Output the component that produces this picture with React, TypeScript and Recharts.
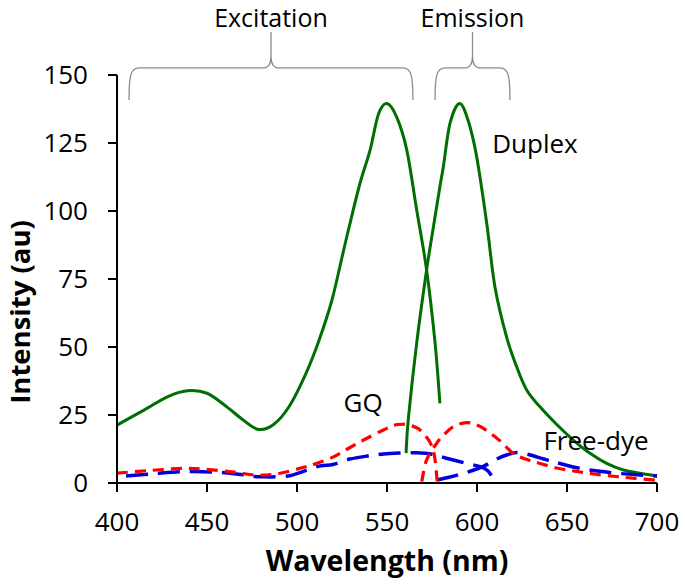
import React from "react";
import {
    LineChart,
    Line,
    XAxis,
    YAxis,
    ReferenceLine,
    ReferenceDot,
} from "recharts";

// wavelength (nm) / intensity (au)
const duplexExWl = [400, 415, 428, 439, 450, 461, 470, 478.5, 487, 496, 505, 512, 519.3, 525.7, 529.1, 535, 540.6, 545.2, 550, 555.4, 561, 566.5, 572, 576.7, 579.4];
const duplexExI = [21.3, 26.8, 31.7, 33.9, 33, 28, 23.2, 19.7, 21.5, 28.5, 40.3, 52, 67, 85, 94.5, 110.2, 122.4, 135.5, 139.5, 134.5, 122.4, 100.4, 78.3, 51.5, 29.3];

const duplexEmWl = [560.6, 561.8, 566.5, 572, 576, 579.4, 581.3, 585, 590.3, 595.2, 599.8, 605.4, 610, 616.5, 622, 627.6, 635, 644.3, 653.5, 662.8, 672, 681.3, 690.6, 700];
const duplexEmI = [11, 23.2, 51.5, 78.3, 95, 109, 116.3, 132.2, 139.5, 133, 120, 95.5, 72, 53.5, 42.8, 34.2, 28, 21.5, 15.8, 10.9, 7.2, 4.8, 3.6, 2.6];

const gqExWl = [400, 418, 437, 450, 465, 477.6, 490, 501.7, 510, 520, 528, 537, 548, 556, 564, 570.2, 575.7, 578];
const gqExI = [3.6, 4.6, 5.4, 5, 4, 2.9, 3.5, 5.4, 7, 9.5, 12.5, 15.8, 19.5, 21.5, 21, 18.3, 12.1, 0];

const gqEmWl = [569.3, 572, 577.6, 581.3, 586.8, 594, 600, 606, 612.8, 620, 627, 635, 645, 655, 665, 677, 688, 700];
const gqEmI = [0.5, 8.5, 14.6, 17.5, 20.7, 22.2, 21.3, 19, 15.5, 11, 8.8, 7.2, 5.4, 4.3, 3.3, 2.4, 1.7, 1.0];

const freeExWl = [405, 420, 437, 455, 470, 479.4, 496, 511, 520, 529.4, 540, 548, 557, 566.5, 575, 583, 594.3, 601.7, 606, 609];
const freeExI = [2.6, 3.4, 4.2, 4, 3, 2.3, 2.7, 6, 6.8, 8.8, 10, 10.7, 11, 11.1, 10.6, 9.1, 7.2, 6, 4.5, 1.5];

const freeEmWl = [577.6, 585, 594.3, 603.5, 610, 616.5, 624, 638.7, 647, 657, 667, 677.6, 689, 700];
const freeEmI = [1.1, 2.2, 3.9, 6.1, 8.5, 10.3, 11.1, 8.5, 7, 5.4, 4.4, 3.6, 3.0, 2.6];

const xTicks = [400, 450, 500, 550, 600, 650, 700];
const yTicks = [0, 25, 50, 75, 100, 125, 150];

// brace spans (nm) and the level they sit at (au, above the plot top)
const braceNames = ["Excitation", "Emission"];
const braceFrom = [406.7, 576.7];
const braceTo = [564.4, 618.3];
const braceLevel = 152.6;

// series annotations: label, wavelength, intensity of label centre
const noteNames = ["Duplex", "GQ", "Free-dye"];
const noteWl = [632.2, 536.7, 666.1];
const noteI = [124.6, 29.6, 15.4];

const FONT = "'Open Sans', sans-serif";
const GREEN = "#006e00";
const RED = "#ff0000";
const BLUE = "#0000e0";

function zip(wl: number[], vals: number[]) {
    return wl.map((x, i) => ({ x, y: vals[i] }));
}

// spreadsheet-style smoothed line (Catmull-Rom as cubic beziers)
function smoothCurve(context: any) {
    let pts: number[][] = [];
    return {
        areaStart() {},
        areaEnd() {},
        lineStart() {
            pts = [];
        },
        point(x: number, y: number) {
            pts.push([+x, +y]);
        },
        lineEnd() {
            const n = pts.length;
            if (!n) return;
            context.moveTo(pts[0][0], pts[0][1]);
            for (let i = 0; i < n - 1; i++) {
                const p0 = pts[Math.max(i - 1, 0)];
                const p1 = pts[i];
                const p2 = pts[i + 1];
                const p3 = pts[Math.min(i + 2, n - 1)];
                context.bezierCurveTo(
                    p1[0] + (p2[0] - p0[0]) / 6,
                    p1[1] + (p2[1] - p0[1]) / 6,
                    p2[0] - (p3[0] - p1[0]) / 6,
                    p2[1] - (p3[1] - p1[1]) / 6,
                    p2[0],
                    p2[1]
                );
            }
        },
    };
}

function Brace(props: any) {
    const { x1, x2, y1, text } = props;
    const L = x1;
    const R = x2;
    const H = y1;
    const M = (L + R) / 2;
    const d =
        `M ${L} ${H + 32} C ${L} ${H + 10} ${L + 1} ${H} ${L + 10} ${H} L ${M - 8} ${H} ` +
        `C ${M - 2} ${H} ${M} ${H - 4} ${M} ${H - 12} L ${M} ${H - 36} ` +
        `M ${M} ${H - 12} C ${M} ${H - 4} ${M + 2} ${H} ${M + 8} ${H} L ${R - 10} ${H} ` +
        `C ${R - 1} ${H} ${R} ${H + 10} ${R} ${H + 32}`;
    return (
        <g>
            <path d={d} fill="none" stroke="#8c8c8c" strokeWidth={1.3} />
            <text x={M} y={H - 41} textAnchor="middle" fontSize={25} fontFamily={FONT} fill="#000">
                {text}
            </text>
        </g>
    );
}

export default function App() {
    const tickStyle = { fontSize: 26, fill: "#000", fontFamily: FONT };
    const series = [
        { key: "dupEx", data: zip(duplexExWl, duplexExI), color: GREEN, dash: undefined, w: 3 },
        { key: "dupEm", data: zip(duplexEmWl, duplexEmI), color: GREEN, dash: undefined, w: 3 },
        { key: "freeEx", data: zip(freeExWl, freeExI), color: BLUE, dash: "22 10", w: 3.5 },
        { key: "freeEm", data: zip(freeEmWl, freeEmI), color: BLUE, dash: "22 10", w: 3.5 },
        { key: "gqEx", data: zip(gqExWl, gqExI), color: RED, dash: "11 7", w: 3.2 },
        { key: "gqEm", data: zip(gqEmWl, gqEmI), color: RED, dash: "11 7", w: 3.2 },
    ];

    return (
        <div style={{ position: "absolute", left: 0, top: 0, background: "#fff" }}>
            <LineChart
                width={685}
                height={585}
                margin={{ top: 75, right: 28, left: 0, bottom: 0 }}
                style={{ fontFamily: FONT }}
            >
                <XAxis
                    type="number"
                    dataKey="x"
                    domain={[400, 700]}
                    ticks={xTicks}
                    height={102}
                    tick={tickStyle}
                    tickSize={9}
                    tickMargin={21}
                    stroke="#000"
                    strokeWidth={2}
                    allowDuplicatedCategory={false}
                    label={() => (
                        <text x={387} y={571} textAnchor="middle" fontSize={28.5} fontWeight="bold" fontFamily={FONT} fill="#000">
                            Wavelength (nm)
                        </text>
                    )}
                />
                <YAxis
                    type="number"
                    domain={[0, 150]}
                    ticks={yTicks}
                    width={117}
                    tick={tickStyle}
                    tickSize={9}
                    tickMargin={20}
                    stroke="#000"
                    strokeWidth={2}
                    label={() => (
                        <text
                            x={30}
                            y={312}
                            transform="rotate(-90, 30, 312)"
                            textAnchor="middle"
                            fontSize={27.5}
                            fontWeight="bold"
                            fontFamily={FONT}
                            fill="#000"
                        >
                            Intensity (au)
                        </text>
                    )}
                />
                {series.map((s) => (
                    <Line
                        key={s.key}
                        data={s.data}
                        dataKey="y"
                        type={smoothCurve as any}
                        stroke={s.color}
                        strokeWidth={s.w}
                        strokeDasharray={s.dash}
                        dot={false}
                        activeDot={false}
                        isAnimationActive={false}
                    />
                ))}
                {braceNames.map((name, i) => (
                    <ReferenceLine
                        key={name}
                        segment={[
                            { x: braceFrom[i], y: braceLevel },
                            { x: braceTo[i], y: braceLevel },
                        ]}
                        ifOverflow="visible"
                        shape={(p: any) => <Brace {...p} text={name} />}
                    />
                ))}
                {noteNames.map((name, i) => (
                    <ReferenceDot
                        key={name}
                        x={noteWl[i]}
                        y={noteI[i]}
                        r={0}
                        fill="none"
                        stroke="none"
                        label={{ value: name, position: "center", fontSize: 26, fill: "#000", fontFamily: FONT }}
                    />
                ))}
            </LineChart>
        </div>
    );
}
